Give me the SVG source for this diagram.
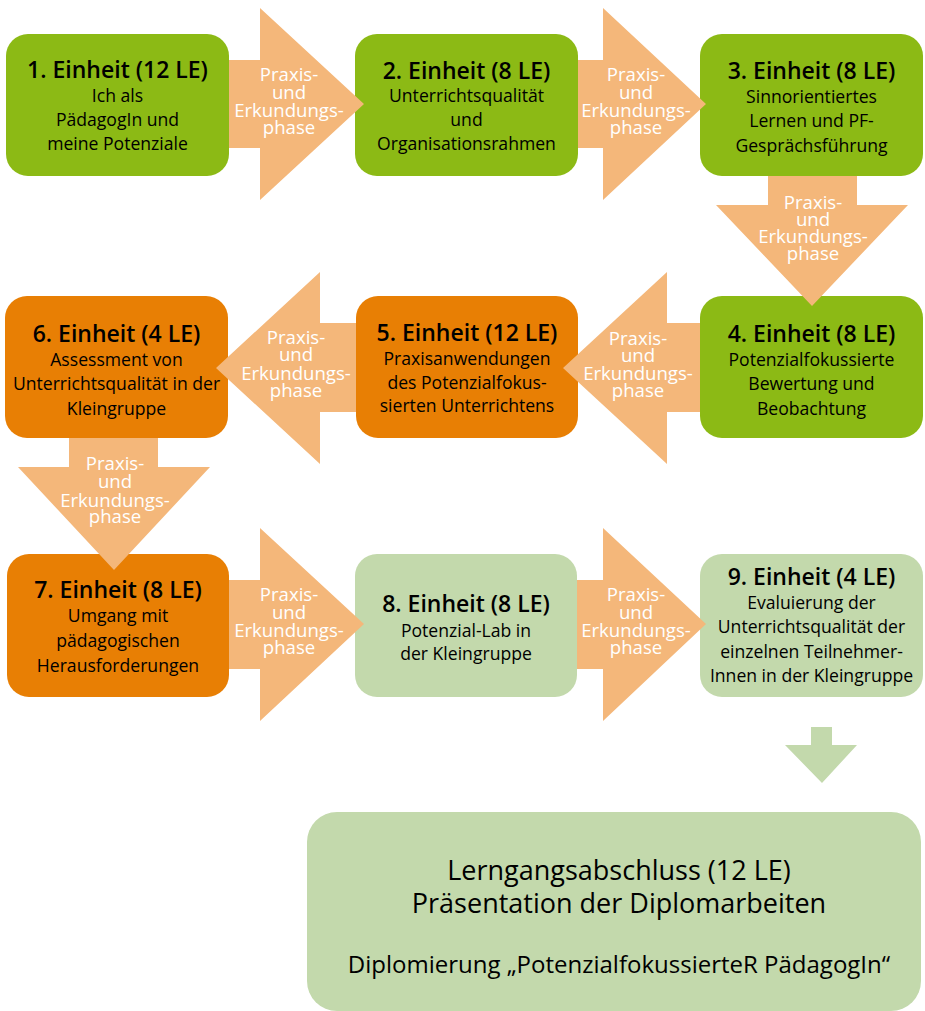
<svg xmlns="http://www.w3.org/2000/svg" width="925" height="1011" viewBox="0 0 925 1011">
<style>
.g{fill:#8CBA15}
.o{fill:#E87F04}
.l{fill:#C3D9AC}
.a{fill:#F4B77A}
.ga{fill:#C3D9AC}
text{font-family:"Open Sans",Lato,"Liberation Sans",sans-serif;text-anchor:middle;fill:#000}
.t{font-size:23px;font-weight:600}
.b{font-size:17.6px}
.p{font-size:18.6px;fill:#fff}
.f1{font-size:27px}
.f2{font-size:24px}
</style>
<rect width="925" height="1011" fill="#fff"/>
<g id="nodes">
<g id="n1"><rect class="g" x="6" y="34" width="223" height="142" rx="22"/>
<text class="t" x="117.5" y="78">1. Einheit (12 LE)</text>
<text class="b" x="117.5" y="102">Ich als</text>
<text class="b" x="117.5" y="126">PädagogIn und</text>
<text class="b" x="117.5" y="150">meine Potenziale</text></g>
<g id="n2"><rect class="g" x="355" y="34" width="223" height="142" rx="22"/>
<text class="t" x="466.5" y="79">2. Einheit (8 LE)</text>
<text class="b" x="466.5" y="102">Unterrichtsqualität</text>
<text class="b" x="466.5" y="126">und</text>
<text class="b" x="466.5" y="150">Organisationsrahmen</text></g>
<g id="n3"><rect class="g" x="700" y="34" width="223" height="142" rx="22"/>
<text class="t" x="811.5" y="79">3. Einheit (8 LE)</text>
<text class="b" x="811.5" y="103">Sinnorientiertes</text>
<text class="b" x="811.5" y="127">Lernen und PF-</text>
<text class="b" x="811.5" y="152">Gesprächsführung</text></g>
<g id="n4"><rect class="g" x="700" y="296" width="223" height="142" rx="22"/>
<text class="t" x="811.5" y="342">4. Einheit (8 LE)</text>
<text class="b" x="811.5" y="366">Potenzialfokussierte</text>
<text class="b" x="811.5" y="390">Bewertung und</text>
<text class="b" x="811.5" y="415">Beobachtung</text></g>
<g id="n5"><rect class="o" x="356" y="296" width="222" height="142" rx="22"/>
<text class="t" x="467" y="341">5. Einheit (12 LE)</text>
<text class="b" x="467" y="365">Praxisanwendungen</text>
<text class="b" x="467" y="389">des Potenzialfokus-</text>
<text class="b" x="467" y="412">sierten Unterrichtens</text></g>
<g id="n6"><rect class="o" x="5" y="296" width="223" height="142" rx="22"/>
<text class="t" x="116.5" y="342">6. Einheit (4 LE)</text>
<text class="b" x="116.5" y="366">Assessment von</text>
<text class="b" x="116.5" y="390">Unterrichtsqualität in der</text>
<text class="b" x="116.5" y="415">Kleingruppe</text></g>
<g id="n7"><rect class="o" x="7" y="554" width="222" height="143" rx="22"/>
<text class="t" x="118" y="598">7. Einheit (8 LE)</text>
<text class="b" x="118" y="622">Umgang mit</text>
<text class="b" x="118" y="647">pädagogischen</text>
<text class="b" x="118" y="672">Herausforderungen</text></g>
<g id="n8"><rect class="l" x="355" y="554" width="222" height="143" rx="22"/>
<text class="t" x="466" y="612">8. Einheit (8 LE)</text>
<text class="b" x="466" y="637">Potenzial-Lab in</text>
<text class="b" x="466" y="660">der Kleingruppe</text></g>
<g id="n9"><rect class="l" x="700" y="554" width="223" height="143" rx="22"/>
<text class="t" x="811.5" y="585">9. Einheit (4 LE)</text>
<text class="b" x="811.5" y="609">Evaluierung der</text>
<text class="b" x="811.5" y="633">Unterrichtsqualität der</text>
<text class="b" x="811.5" y="658">einzelnen Teilnehmer-</text>
<text class="b" x="811.5" y="682">Innen in der Kleingruppe</text></g>
<g id="final"><rect class="l" x="307" y="812" width="614" height="199" rx="30"/>
<text class="f1" x="619" y="880">Lerngangsabschluss (12 LE)</text>
<text class="f1" x="619" y="913">Präsentation der Diplomarbeiten</text>
<text class="f2" x="619" y="973">Diplomierung „PotenzialfokussierteR PädagogIn“</text></g>
</g>
<g id="connectors">
<g id="c12"><polygon class="a" points="229,60 260,60 260,8 364,104 260,200 260,148 229,148"/>
<text class="p" x="289" y="81">Praxis-</text><text class="p" x="289" y="99">und</text><text class="p" x="289" y="117">Erkundungs-</text><text class="p" x="289" y="134">phase</text></g>
<g id="c23"><polygon class="a" points="578,60 603,60 603,8 706,104 603,200 603,148 578,148"/>
<text class="p" x="636" y="81">Praxis-</text><text class="p" x="636" y="99">und</text><text class="p" x="636" y="117">Erkundungs-</text><text class="p" x="636" y="134">phase</text></g>
<g id="c34"><polygon class="a" points="768,176 857,176 857,205 908,205 812,306 716,205 768,205"/>
<text class="p" x="813" y="209">Praxis-</text><text class="p" x="813" y="226">und</text><text class="p" x="813" y="243">Erkundungs-</text><text class="p" x="813" y="260">phase</text></g>
<g id="c45"><polygon class="a" points="700,323 667,323 667,272 563,368 667,464 667,412 700,412"/>
<text class="p" x="638" y="345">Praxis-</text><text class="p" x="638" y="362">und</text><text class="p" x="638" y="380">Erkundungs-</text><text class="p" x="638" y="397">phase</text></g>
<g id="c56"><polygon class="a" points="356,323 320,323 320,272 216,368 320,464 320,412 356,412"/>
<text class="p" x="296" y="344">Praxis-</text><text class="p" x="296" y="361">und</text><text class="p" x="296" y="380">Erkundungs-</text><text class="p" x="296" y="397">phase</text></g>
<g id="c67"><polygon class="a" points="69,438 158,438 158,467 210,467 114,570 18,467 69,467"/>
<text class="p" x="115" y="470">Praxis-</text><text class="p" x="115" y="488">und</text><text class="p" x="115" y="507">Erkundungs-</text><text class="p" x="115" y="523">phase</text></g>
<g id="c78"><polygon class="a" points="229,580 260,580 260,528 364,624 260,721 260,669 229,669"/>
<text class="p" x="289" y="601">Praxis-</text><text class="p" x="289" y="619">und</text><text class="p" x="289" y="637">Erkundungs-</text><text class="p" x="289" y="654">phase</text></g>
<g id="c89"><polygon class="a" points="577,580 603,580 603,528 706,624 603,721 603,669 577,669"/>
<text class="p" x="636" y="601">Praxis-</text><text class="p" x="636" y="619">und</text><text class="p" x="636" y="637">Erkundungs-</text><text class="p" x="636" y="654">phase</text></g>
<g id="c9f"><polygon class="ga" points="811,727 832,727 832,745 857,745 822,783 785,745 811,745"/>
</g>
</g>
</svg>
